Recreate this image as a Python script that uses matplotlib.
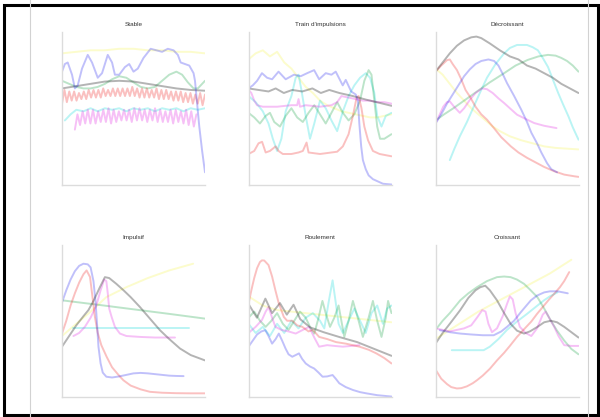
import numpy as np
import matplotlib
matplotlib.use('Agg')
import matplotlib.pyplot as plt
from matplotlib.patches import Rectangle
from matplotlib.lines import Line2D

TITLES = ["Stable", "Train d'impulsions", "Décroissant", "Impulsif", "Roulement", "Croissant"]
COLORS = {'blue': '#2020f0', 'green': '#10a040', 'red': '#f02020', 'cyan': '#00d8d8', 'magenta': '#e020e0',
          'yellow': '#f0f000', 'gray': '#303030'}
ALPHAS = {'blue': 0.28, 'green': 0.28, 'red': 0.28, 'cyan': 0.27, 'magenta': 0.28, 'yellow': 0.2, 'gray': 0.36}

# ---------------- Stable ----------------
STABLE_BLUE = [(0,74),(2,79),(4,80),(7,72),(9,63),(11,65),(14,76),(18,85),(21,80),(25,70),(28,73),(32,85),(35,80),
               (37,72),(40,72),(44,77),(47,79),(50,74),(53,76),(57,83),(62,89),(66,88),(70,87),(74,89),(78,88),(81,85),
               (83,80),(86,79),(89,78),(92,73),(93,68),(94,58),(95,48),(96,38),(97,30),(98,22),(99,15),(100,8)]
STABLE_YELLOW = [(0,86),(10,87),(20,88),(30,88),(40,89),(50,89),(60,88),(70,88),(80,87),(90,87),(100,86)]
STABLE_GREEN = [(0,68),(5,66),(10,64),(15,63),(20,63),(25,64),(30,66),(35,69),(40,71),(45,70),(50,67),(55,64),(60,63),
                (65,64),(70,68),(75,72),(80,74),(84,72),(88,67),(92,63),(95,63),(98,66),(100,68)]
STABLE_GRAY = [(0,63),(10,64.5),(20,66),(30,67.5),(40,68),(50,67.5),(60,66),(70,64.5),(80,63),(90,62),(100,61.5)]
STABLE_RED_PEAKS = [62,61,61,60,61,62,62,62,63,62,63,63,63,63,64,63,63,63,62,63,62,62,61,61,61,60,60,59,60,59]
STABLE_RED_TROUGHS = [53,54,55,55,56,56,57,57,57,58,58,58,58,58,58,58,57,57,57,57,56,56,56,55,55,54,54,53,53,52]
STABLE_MAGENTA_PEAKS = [46,48,49,49,48,49,50,49,48,49,49,50,50,49,49,50,49,48,49,49,48,49,48,46]
STABLE_MAGENTA_TROUGHS = [36,39,40,40,40,41,41,40,41,42,42,41,42,42,41,42,41,41,41,40,41,40,39,38]
STABLE_MAGENTA_SPAN = (9, 94)
STABLE_CYAN = [(2,42),(6,46),(10,49),(15,48),(20,50),(25,48),(30,50),(35,49),(40,50),(45,48),(50,50),(55,49),(60,50),
               (65,48),(70,50),(75,49),(80,50),(85,48),(90,50),(95,49),(100,50)]

# ---------------- Train d'impulsions ----------------
TRAIN_BLUE = [(0,63),(3,65),(6,68),(9.4,73),(13,70),(16.5,69),(21,74),(26,69),(31.8,72),(36.5,71),(41,73),(45.9,75),
              (49.4,69),(54,73),(58,72),(61,74),(65.9,65),(68,68.6),(71.8,61),(75,59),(76.5,55),(77.5,40),(78.8,25),
              (80,16),(82,10),(84,6),(87,3.5),(94,0.5),(100,0)]
TRAIN_GRAY = [(0,63),(7,62),(14,61),(19,63),(24.7,60),(30.6,62),(37.6,61),(44.7,63),(50.6,60),(56.5,62),(63.5,60),
              (73,58),(82.4,55.6),(91.8,53.5),(100,51.6)]
TRAIN_MAGENTA = [(0,62),(2,60),(4,55),(6,52),(10,51),(20,51),(30,52),(34,52),(35,56),(36,51),(40,52),(50,51),(58,52),
                 (62,54),(65,58),(70,57),(75,56),(80,55),(85,55),(90,54),(95,54),(100,53)]
TRAIN_GREEN = [(0,47),(4,44),(8,40),(12,45),(15,47),(18,41),(22,38),(26,45),(30,50),(34,44),(38,41),(42,47),(46,52),
               (50,46),(54,40),(58,47),(62,54),(66,47),(70,42),(74,46),(78,55),(81,68),(84,75),(86,72),(88,55),(90,38),
               (92,30),(95,30),(100,33)]
TRAIN_CYAN = [(0,58),(5,54),(10,48),(14,40),(17,30),(20,22),(23,30),(26,48),(30,58),(33,70),(35,72),(37,62),(40,45),
              (43,30),(46,40),(50,55),(54,50),(58,42),(62,35),(66,48),(70,58),(74,65),(78,70),(82,73),(85,70),(88,60),
              (90,45),(93,38),(96,45),(100,47)]
TRAIN_RED = [(0,20),(4,22),(7,27),(9.5,28),(12,21),(15,22),(19,25),(21,22),(24,20),(30,20),(35,21),(38,22),(40.6,27.5),
             (42,21),(50,20),(58,21),(62,21.5),(66,25),(70,33),(73,45),(75.6,57),(77,58),(79,50),(81,38),(83.6,29),
             (87,22),(91.7,20),(100,18.5)]
TRAIN_YELLOW = [(0,82),(5,86),(10,88),(15,84),(20,87),(25,80),(30,76),(35,70),(40,64),(45,60),(50,55),(55,52),(60,50),
                (65,48),(70,47),(75,46),(80,45),(85,44),(90,44),(95,45),(100,46)]

# ---------------- Décroissant ----------------
DEC_GRAY = [(0,74),(5,80),(10,86),(15,91),(20,94.5),(25,96.5),(28.6,97),(32,96),(38,92.5),(45,88),(52,84),(58,82),
            (64,78),(70,76),(76,73),(82,70),(88,66),(94,63),(100,60)]
DEC_RED = [(0,74),(4,78),(8,81.5),(10,82),(12,79),(15,75),(18,69),(21,62),(24,57.7),(28,51),(32,46),(36,42.5),(40,38),
           (46,31),(52.7,25),(58,21),(64,17.5),(69,15),(76,11.5),(83,8.7),(90,6.5),(97,5.4),(100,5)]
DEC_BLUE = [(0,40),(4,46),(8,53),(12,59),(16,65),(20,71),(24,75.5),(28,79),(32,81),(37,82),(41,81),(44,78),(47,72.5),
            (50,66.5),(55,58),(60,49),(64,41),(67,34),(71,27),(74,21),(78,14),(81,10),(85,8)]
DEC_CYAN = [(10,16),(13,23),(17,31.6),(22,41),(26.7,51),(31,60),(36,70),(42,79),(48,86),(52,89.5),(57,91.5),(64,91.5),
            (68,90),(71.6,88),(75,83),(78.7,77),(82,69),(85.8,60),(89,53),(93,44.6),(96,37.5),(100,29.4)]
DEC_GREEN = [(0,42),(6,46),(12.5,50),(20,55),(29,61),(38,67),(48,73),(56,78),(64.5,81.7),(72,84),(78.7,85),(84,84.5),
             (88,83),(92,81),(96,78),(100,74)]
DEC_MAGENTA = [(0,40),(3,46),(5.4,51),(8,54),(10,54.5),(13,51),(17,47),(20,50),(24,55.5),(28,60),(32.6,63),(36,62.5),
               (40,60),(44,56.5),(48,53.4),(52,50),(57,45.8),(63,43),(69,40.3),(76,38.5),(84.6,37)]
DEC_YELLOW = [(0,76),(5,72),(10,66),(15,60),(20,55),(25,50),(30,46),(35,42),(40,38),(45,35),(52,31.6),(60,29),(68,27),
              (76,25),(84,24),(92,23.5),(100,23)]

# ---------------- Impulsif ----------------
IMP_BLUE = [(0,62),(3,70),(6,77),(9,82.5),(12,86),(15,87.4),(18,87),(20,85),(22,76),(23.5,62),(24.5,48),(25.5,33),
            (27,22),(28.5,16),(31,13.3),(35,12.8),(40,13.5),(45,14.5),(50,15.5),(55,15.8),(60,15.5),(65,15),(70,14.5),
            (75,14),(80,13.8),(85,13.7)]
IMP_RED = [(0,41.6),(3,50),(6,60),(9,68),(12,75),(15,80.5),(17.2,83),(19.6,78.7),(21,68),(23,52.5),(25,42),(27.5,34),
           (31.2,26.4),(35,19.5),(39,15),(42.9,11),(48,7.5),(55,5),(61.5,3.4),(70,2.8),(80,2.5),(90,2.4),(100,2.4)]
IMP_GRAY = [(0,33),(5,40),(10,47),(15,53),(18.5,57),(22,63),(26.5,72),(30,78.6),(33,78),(38,74.2),(43,70),(48,65.5),
            (54.5,59),(60,53),(68.5,43.8),(75,38),(82.5,31.8),(90,27.5),(100,24)]
IMP_MAGENTA = [(8,40),(12,42),(16,46),(20,52),(24,60),(27,70),(29.5,77),(31,76),(32,68),(33,58),(34.7,52.5),(37,46),
               (40.5,41.6),(45,40),(54.5,39.4),(65,39),(79,39)]
IMP_GREEN = [(0,63.4),(25,60.5),(50,57.5),(75,54.5),(100,51.4)]
IMP_CYAN = [(7.8,45),(30,45),(60,45),(89,45)]
IMP_YELLOW = [(0,40),(10,48),(20,56),(31,65.5),(45,72),(60,78),(75,83),(91.7,87.4)]

# ---------------- Roulement ----------------
ROU_RED = [(0,61),(2,70),(4,78),(6,84.5),(8,88.5),(9.4,89.6),(11,89.5),(14,86.5),(16.5,79),(18.8,70),(21,62),
           (24.7,52.5),(27,50),(30.6,50),(34,47),(37.6,46),(42,43),(45,44),(49.4,39.4),(55,38),(61.2,36),(68,35),
           (77.6,33),(84,31),(89.4,28.6),(95,25.5),(100,22)]
ROU_GRAY = [(0,61),(5.9,52),(11.8,64.5),(16.5,55),(22,61.6),(26.8,54),(31.5,60.5),(36.2,51),(43,45.7),(52.5,42.5),
            (64,39.2),(76,36),(100,27)]
ROU_BLUE = [(0,33),(3,37),(6,41),(9,43),(11.8,43.8),(14,40),(16.5,35),(19,38),(21.2,41.6),(23.5,37),(25.9,31.8),
            (28,28),(30.6,26.4),(33,27.5),(35.3,28.6),(37.5,25),(40,22),(43,20),(45.9,18.7),(49,16),(51.8,13.3),
            (55,13.5),(58.8,14.4),(61,12),(63.5,9),(68,6.5),(73,4.6),(78,3.2),(82.4,2.4),(90,1.2),(100,0.3)]
ROU_MAGENTA = [(0,42),(5,46),(9.4,50.5),(12,56),(14,59),(16.5,52),(18.8,46),(23,44),(28,43),(33,41.6),(38,44),
               (42.4,46),(46,39),(49.4,33),(55,34),(60,33.5),(66,33),(72,33.5),(77.6,34)]
ROU_GREEN = [(0,52),(4,56),(8,50),(12,46),(16,50),(20,55),(24,48),(28,44),(32,50),(36,56),(40,52),(43,46),(46,41.6),
             (49,52),(51.7,63),(54,55),(57,46),(60,52),(63,60),(67,39.4),(70,50),(73,63),(77,50),(80,39.4),(84,52),
             (87,63),(90,50),(93,39.4),(96,52),(97.6,63),(100,55)]
ROU_CYAN = [(0,48),(5,42),(10,46),(15,40),(20,48),(25,42),(30,50),(35,45),(40,52),(45,55),(50,50),(53,45),(56,62),
            (58.8,76.5),(61,62),(63,48),(66,42),(70,50),(74,58),(78,50),(82,42),(86,55),(90,60),(94,48),(97,58),(100,60)]
ROU_YELLOW = [(0,66),(10,60),(20,57),(30,56),(40,55),(50,54),(60,53),(70,52),(80,51),(90,50),(100,49)]

# ---------------- Croissant ----------------
CRO_RED = [(0,18),(4,12),(8,8.5),(11,6.5),(14.9,5.6),(18,5.8),(22,7),(26,9),(29,11),(33,14),(38,18.5),(43,24),(48,29),
           (52,33.5),(57,39.4),(62,44.5),(67,49.5),(71,54.5),(75,59),(79,63.5),(83,67.7),(87,72),(90,76),(93.5,81.9)]
CRO_GREEN = [(0,44),(5,50),(10,55),(17.3,63.4),(23,68),(29,72),(36,76),(43,78.6),(48,79),(52.5,78.6),(57,77),
             (61.9,74.2),(66,70.5),(71.3,65.4),(76,58),(80.7,50),(85,43.5),(90,37),(95,31.5),(100,28)]
CRO_GRAY = [(0,35),(5,42),(10,48),(17.3,57),(23,65),(28,70),(31.3,72),(34.8,73),(38,70),(43,63.4),(48,55),(52.5,48),
            (57,43.5),(61.9,41.6),(66,43),(71.3,46),(76,49),(80.7,50),(85,49),(90,46),(95,42.5),(100,39)]
CRO_BLUE = [(3,43.8),(10,42.5),(17.3,41.6),(25,41),(33,40.5),(40.7,40.5),(46,43),(50,46),(54.9,50),(60,56),
            (66.7,63.4),(71,66.5),(76,68.6),(80,69.3),(85.4,69.3),(92.5,68)]
CRO_MAGENTA = [(0,45),(5,44),(10,43),(15,44),(20,45),(25,47),(29,52),(32.7,57),(35,56),(37,48),(39.5,42.5),(43,45),
               (47,53),(50,61),(52,66),(54,64),(56,55),(59,46),(63,42),(67,40),(71,45),(75,54),(77,56),(80,51),(83,46),
               (86,40),(90,34),(95,33.5),(100,33.5)]
CRO_CYAN = [(11.4,30.7),(20,30.7),(27,30.7),(33.7,30.7),(38,33),(44,38),(50,44),(57,49.5),(64,54.5),(70,59),
            (75.9,63.4),(80,66),(85.3,68.6)]
CRO_YELLOW = [(0,38),(10,44),(20,50),(30,56),(40,61),(50,66),(60,71),(70,76),(80,81),(90,87),(95,90)]


def xy(pairs):
    a = np.array(pairs, dtype=float)
    return a[:, 0], a[:, 1]


def alternating(troughs, peaks, start, end):
    vals = []
    for t, p in zip(troughs, peaks):
        vals.extend([t, p])
    x = np.linspace(start, end, len(vals))
    return x, np.array(vals, dtype=float)


PANELS = [
    [('yellow', xy(STABLE_YELLOW)), ('green', xy(STABLE_GREEN)), ('gray', xy(STABLE_GRAY)),
     ('red', alternating(STABLE_RED_TROUGHS, STABLE_RED_PEAKS, 0, 100)), ('cyan', xy(STABLE_CYAN)),
     ('magenta', alternating(STABLE_MAGENTA_TROUGHS, STABLE_MAGENTA_PEAKS, *STABLE_MAGENTA_SPAN)),
     ('blue', xy(STABLE_BLUE))],
    [('yellow', xy(TRAIN_YELLOW)), ('cyan', xy(TRAIN_CYAN)), ('green', xy(TRAIN_GREEN)), ('red', xy(TRAIN_RED)),
     ('magenta', xy(TRAIN_MAGENTA)), ('gray', xy(TRAIN_GRAY)), ('blue', xy(TRAIN_BLUE))],
    [('yellow', xy(DEC_YELLOW)), ('cyan', xy(DEC_CYAN)), ('green', xy(DEC_GREEN)), ('magenta', xy(DEC_MAGENTA)),
     ('red', xy(DEC_RED)), ('blue', xy(DEC_BLUE)), ('gray', xy(DEC_GRAY))],
    [('yellow', xy(IMP_YELLOW)), ('cyan', xy(IMP_CYAN)), ('green', xy(IMP_GREEN)), ('magenta', xy(IMP_MAGENTA)),
     ('red', xy(IMP_RED)), ('blue', xy(IMP_BLUE)), ('gray', xy(IMP_GRAY))],
    [('yellow', xy(ROU_YELLOW)), ('cyan', xy(ROU_CYAN)), ('green', xy(ROU_GREEN)), ('magenta', xy(ROU_MAGENTA)),
     ('red', xy(ROU_RED)), ('blue', xy(ROU_BLUE)), ('gray', xy(ROU_GRAY))],
    [('yellow', xy(CRO_YELLOW)), ('cyan', xy(CRO_CYAN)), ('green', xy(CRO_GREEN)), ('magenta', xy(CRO_MAGENTA)),
     ('red', xy(CRO_RED)), ('blue', xy(CRO_BLUE)), ('gray', xy(CRO_GRAY))],
]

plt.rcParams['font.family'] = ['Liberation Sans', 'DejaVu Sans']

W, H = 600, 417
fig = plt.figure(figsize=(W / 100, H / 100), dpi=100)
fig.patch.set_facecolor('white')

lefts = [62, 248.5, 435.5]
tops = [32, 244.5]
aw, ah = 143, 152.5

for i, (title, lines) in enumerate(zip(TITLES, PANELS)):
    r, c = divmod(i, 3)
    ax = fig.add_axes([lefts[c] / W, 1 - (tops[r] + ah) / H, aw / W, ah / H])
    for name, (x, y) in lines:
        ax.plot(x, y, color=COLORS[name], alpha=ALPHAS[name], lw=1.4, solid_capstyle='round',
                solid_joinstyle='round')
    ax.set_xlim(0, 100)
    ax.set_ylim(0, 100)
    ax.set_xticks([])
    ax.set_yticks([])
    for s in ['top', 'right']:
        ax.spines[s].set_visible(False)
    for s in ['left', 'bottom']:
        ax.spines[s].set_color('#dcdcdc')
        ax.spines[s].set_linewidth(1.0)
    ax.set_facecolor('none')
    ax.set_title(title, fontsize=4.6, color='#333333', pad=4)

# page-like guides and frame
for gx in [29.5, 587.5]:
    fig.add_artist(Line2D([gx / W, gx / W], [0, 1], transform=fig.transFigure, color='#d2d2d2', lw=0.8))
fig.add_artist(Rectangle((3.5 / W, 2.5 / H), 594 / W, 410 / H, transform=fig.transFigure,
                         fill=False, edgecolor='black', lw=2.2))

fig.savefig('out.png', dpi=100, facecolor='white')
